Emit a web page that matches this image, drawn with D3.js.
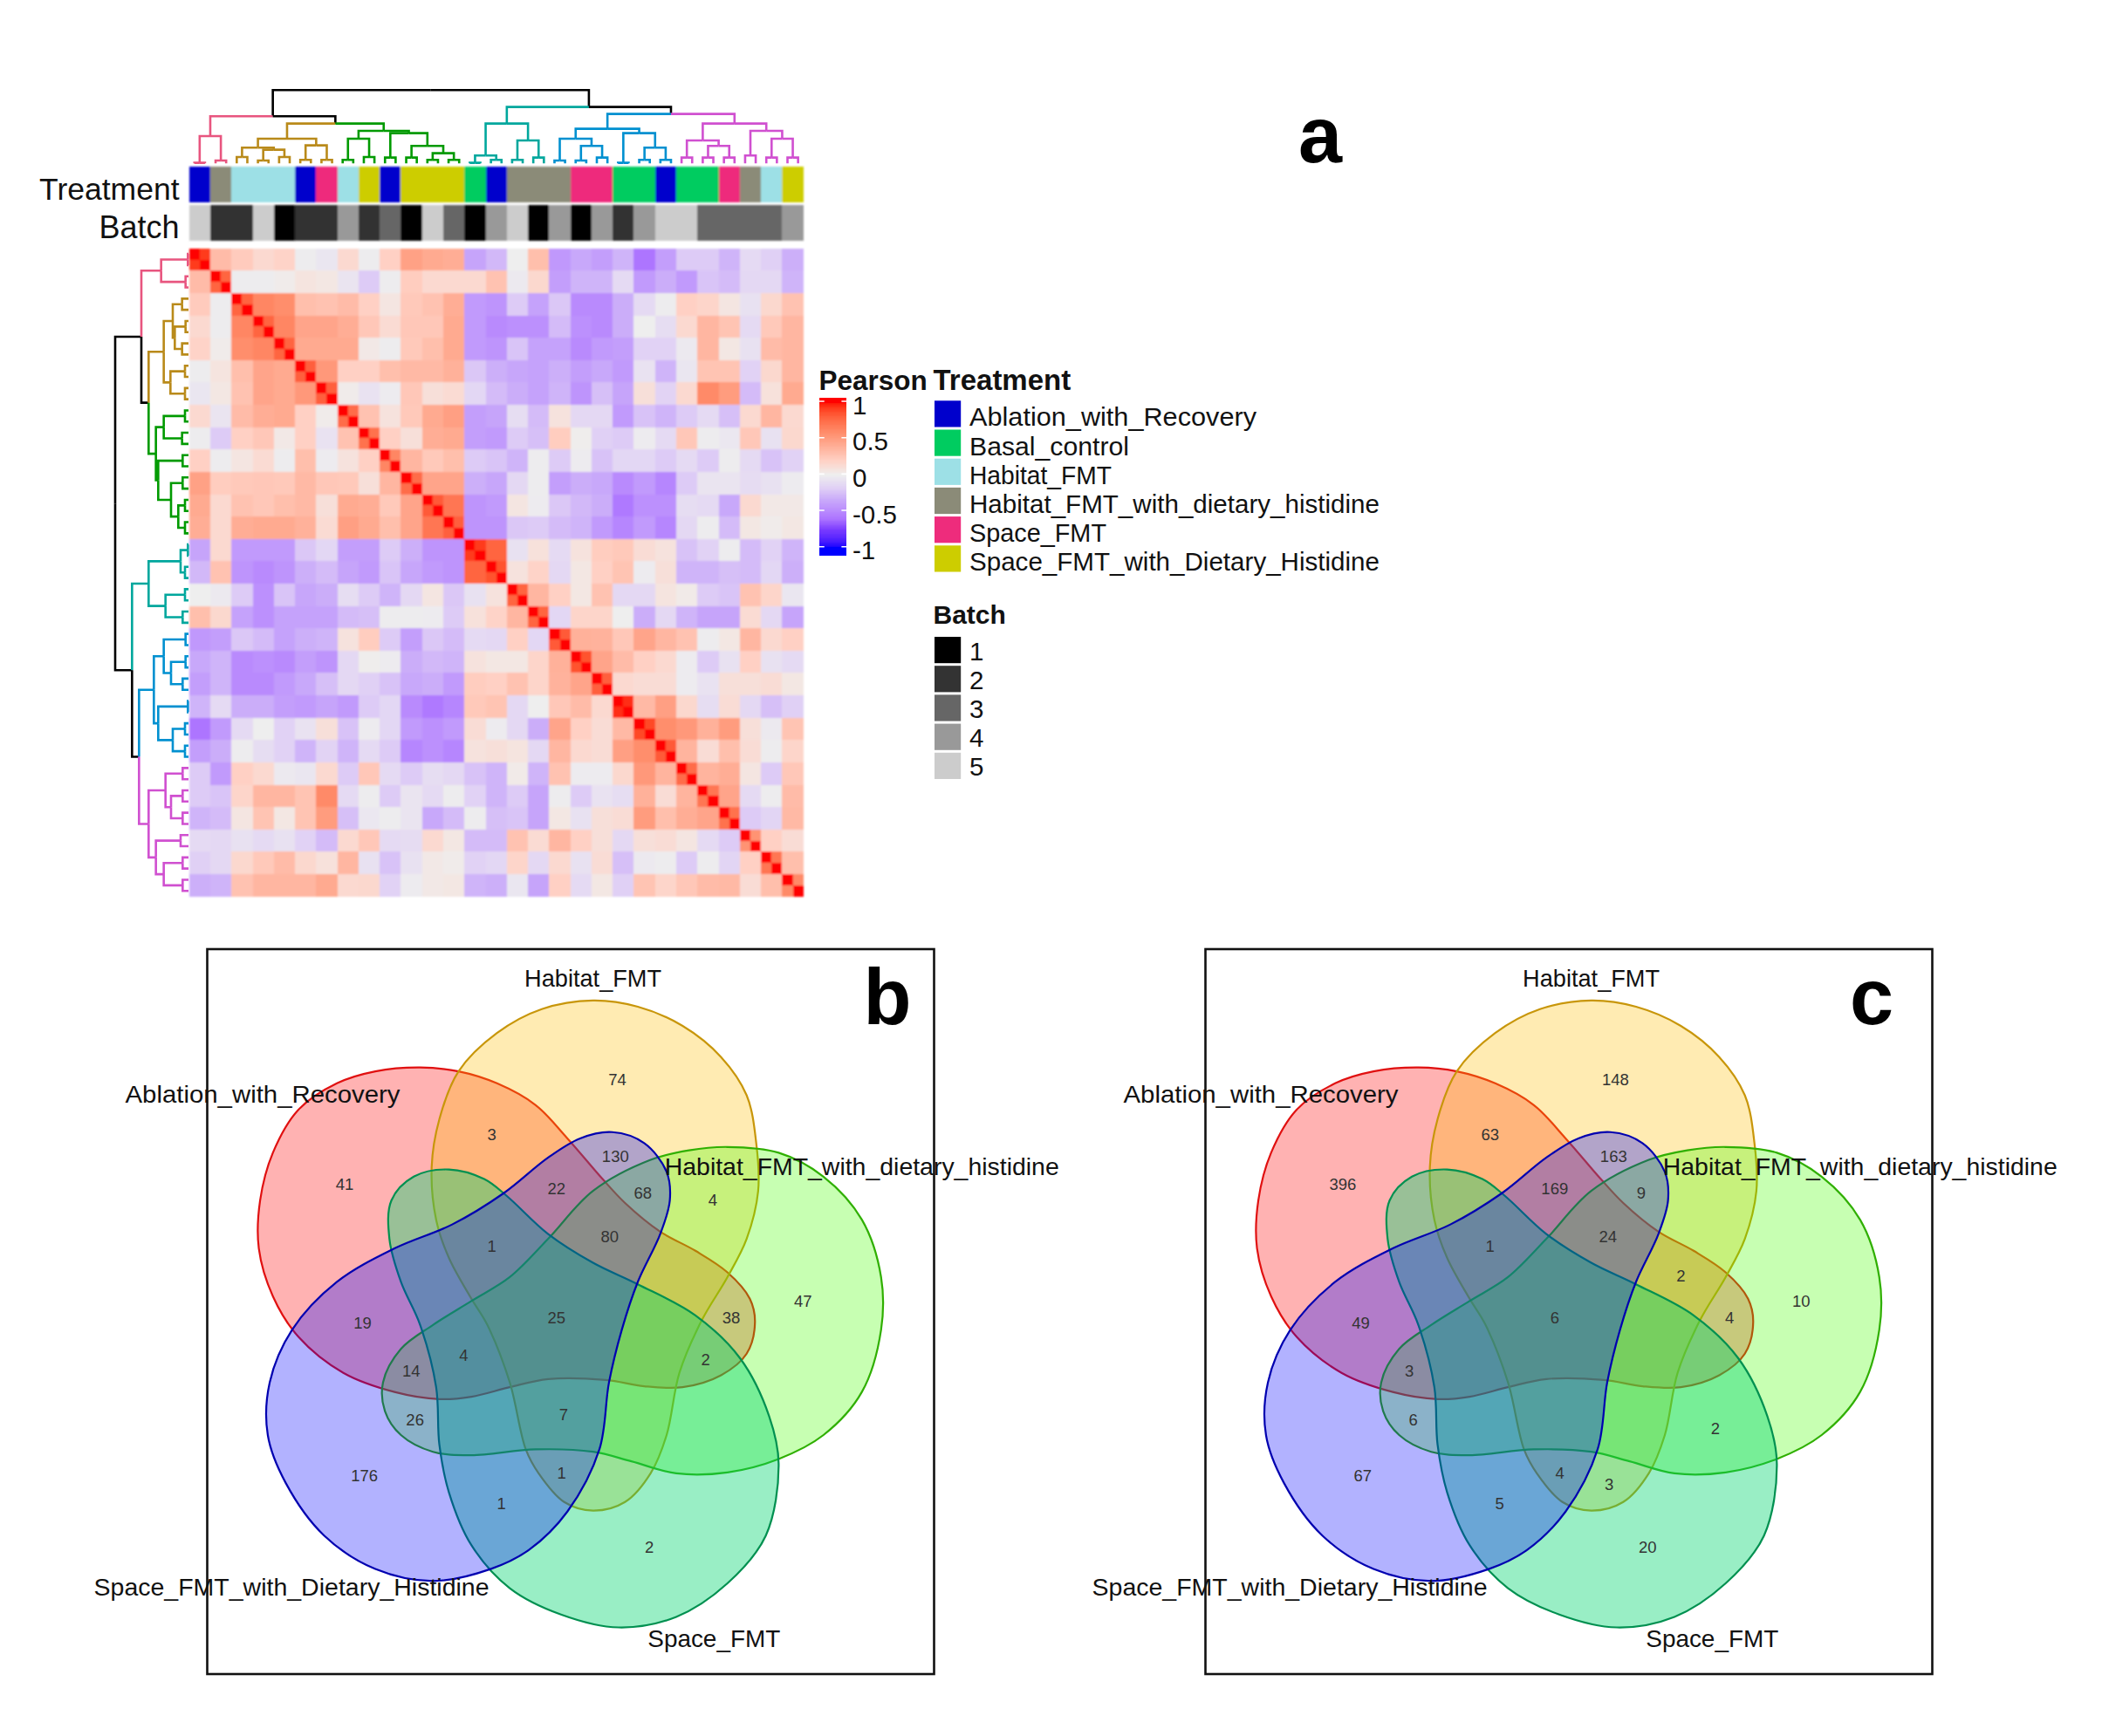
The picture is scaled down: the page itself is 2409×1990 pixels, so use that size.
<!DOCTYPE html>
<html><head><meta charset="utf-8">
<script src="https://cdn.jsdelivr.net/npm/d3@7/dist/d3.min.js"></script>
<style>html,body{margin:0;padding:0;background:#fff}text{font-family:"Liberation Sans",Arial,sans-serif;fill:#111}</style>
</head><body><div id="chart"></div>
<script>
// ---------- DATA ----------
const treatmentNames=["Ablation_with_Recovery","Basal_control","Habitat_FMT","Habitat_FMT_with_dietary_histidine","Space_FMT","Space_FMT_with_Dietary_Histidine"];
const batchNames=[1,2,3,4,5];
// Sample blocks, in clustered order (index into treatmentNames / batchNames)
const blockTreatment=[0,3,2,2,2,0,4,2,5,0,5,5,5,1,0,3,3,3,4,4,1,1,0,1,1,4,3,2,5];
const blockBatch=[5,2,2,5,1,2,2,4,2,3,1,5,3,1,4,5,1,4,1,4,2,4,5,5,3,3,3,3,4];
// Pearson r within each replicate block
const blockWithin=[.92,.78,.78,.78,.78,.8,.8,.75,.72,.62,.75,.82,.8,.92,.85,.78,.78,.82,.85,.8,.95,.88,.82,.75,.7,.72,.55,.7,.6];
// Pearson r between blocks: upper triangle, row i holds columns i+1 … 28
const pearsonUpper=[
[.32,.23,.14,.18,-.01,-.05,.14,-.01,.2,.47,.42,.4,-.37,-.28,0,.3,-.43,-.35,-.4,-.3,-.6,-.4,-.2,-.2,-.3,-.12,-.18,-.32],
[-.01,-.01,.02,.07,.05,-.06,-.2,-.01,.22,.14,.14,.14,.28,-.03,.15,-.4,-.3,-.3,-.12,-.42,-.33,-.42,-.23,-.27,-.13,-.13,-.3],
[.62,.58,.3,.28,.32,.2,.06,.24,.28,.4,-.42,-.45,-.2,-.38,-.22,-.5,-.5,-.33,-.12,-.01,.2,.17,.06,-.08,.15,.28],
[.62,.45,.45,.4,.25,.13,.25,.25,.42,-.42,-.5,-.47,-.47,-.27,-.47,-.5,-.33,0,-.1,.14,.35,.27,-.12,.24,.35],
[.42,.42,.42,.04,-.01,.24,.3,.42,-.42,-.45,-.23,-.38,-.38,-.5,-.42,-.4,-.17,-.17,-.03,.35,.05,-.08,.32,.35],
[.52,.2,.2,.3,.33,.33,.38,-.22,-.32,-.36,-.38,-.32,-.4,-.35,-.42,-.07,-.3,-.05,.27,.27,-.17,.15,.35],
[.02,-.07,-.02,.25,.1,.13,-.14,-.27,-.33,-.38,-.3,-.45,-.25,-.37,.1,-.16,.14,.6,.5,-.27,.09,.42],
[.28,.08,.24,.42,.48,-.4,-.37,-.1,-.27,.08,-.13,-.13,-.42,-.24,-.3,-.2,-.12,-.25,.14,.35,.14],
[.2,.1,.4,.42,-.4,-.42,-.2,-.25,.22,.01,-.18,-.2,-.02,-.12,.25,-.01,-.04,.25,-.08,.15],
[.35,.24,.3,-.2,-.23,-.3,-.01,-.2,-.02,-.24,-.14,-.14,-.2,-.12,-.2,-.01,-.12,-.24,-.17],
[.45,.45,-.32,-.36,-.13,-.01,-.4,-.33,-.35,-.5,-.42,-.52,-.2,-.06,-.06,-.11,-.08,-.02],
[.7,-.45,-.42,.06,-.02,-.22,-.28,-.33,-.58,-.47,-.47,-.1,-.12,-.35,.14,.04,.04],
[-.45,-.45,-.22,-.2,-.27,-.3,-.42,-.52,-.42,-.52,-.13,-.01,-.27,.05,.02,.05],
[.78,-.08,.09,-.12,.08,.22,.24,.12,.08,-.24,-.17,-.01,-.27,-.17,-.3],
[.08,.18,-.13,.05,.2,.27,-.02,.1,-.3,-.3,-.25,-.27,-.14,-.32],
[.35,.2,.05,.28,-.13,-.13,.07,.03,-.2,-.23,.28,.17,-.05],
[-.14,.17,.17,0,-.33,-.13,-.3,-.37,-.37,.13,-.13,-.37],
[.38,.37,.25,.45,.35,.28,-.01,.05,.35,.14,.2],
[.45,.32,.2,.14,-.02,-.2,-.08,.2,-.08,-.12],
[.14,.12,.12,-.02,-.07,.1,.1,.12,.05],
[.33,.48,.15,-.1,.12,-.13,-.25,-.18],
[.58,.52,.38,.5,.1,-.03,.27],
[.36,.12,.3,.12,-.01,.17],
[.36,.4,.06,-.2,.25],
[.45,-.12,-.01,.32],
[-.2,-.15,.33],
[.2,.12],
[.3]];
// Cluster tree: [height, cluster, ...children]; a leaf block is [height, cluster, blockIndex]
const clusterNames=["top","rose","ochre","green","teal","blue","magenta"];
const clusterTree=[252,0,
 [162,0,
  [94,1,[2,1,0],[10,1,1]],
  [137,0,
   [85,2,
    [54,2,[22,2,2],[47,2,[10,2,3],[22,2,4]]],
    [62,2,[12,2,5],[12,2,6]]],
   [112,3,
    [85,3,[12,3,7],[22,3,8]],
    [104,3,[20,3,9],
     [60,3,[20,3,10],[35,3,[12,3,11],[12,3,12]]]]]]],
 [194,0,
  [137,4,
   [27,4,[2,4,13],[12,4,14]],
   [79,4,[12,4,15],[20,4,16]]],
  [170,0,
   [119,5,
    [85,5,[10,5,17],[60,5,[10,5,18],[20,5,19]]],
    [104,5,[2,5,20],[54,5,[12,5,21],[12,5,22]]]],
   [137,6,
    [79,6,[20,6,23],[60,6,[20,6,24],[20,6,25]]],
    [112,6,[27,6,26],[85,6,[20,6,27],[20,6,28]]]]]]];
const pearsonTicks=[1,.5,0,-.5,-1];
// Venn
const setNames=["Ablation_with_Recovery","Habitat_FMT","Habitat_FMT_with_dietary_histidine","Space_FMT_with_Dietary_Histidine","Space_FMT"];
const countsB=[74,41,3,130,22,68,4,1,80,47,19,38,25,4,14,2,26,7,176,1,1,2,null,null,null];
const countsC=[148,396,63,163,169,9,null,1,24,10,49,4,6,null,3,null,6,null,67,4,5,20,2,2,3];

// ---------- LAYOUT ----------
// Venn outlines and anchors, in a diagram space mapped by the scales below
const outlineAblation=[[520,262],[580,270],[640,295],[700,340],[750,410],[805,495],[840,545],[895,605],[950,645],[1000,690],[1035,745],[1043,795],[1030,860],[990,905],[930,930],[870,928],[810,915],[720,913],[660,930],[600,950],[550,955],[480,940],[400,900],[330,825],[290,740],[268,640],[270,540],[290,440],[330,350],[390,295],[450,270]];
const outlineHabitat=[[790,122],[860,135],[930,175],[990,240],[1030,320],[1045,420],[1048,520],[1030,620],[1000,700],[960,790],[925,900],[905,1030],[880,1110],[840,1170],[790,1188],[745,1170],[705,1110],[685,1060],[660,920],[625,800],[600,745],[565,660],[545,580],[538,470],[550,370],[580,270],[640,190],[710,140]];
const outlineHistidine=[[1000,428],[1080,440],[1150,490],[1210,580],[1240,700],[1240,810],[1210,940],[1150,1030],[1080,1080],[1000,1108],[920,1110],[850,1085],[790,1065],[700,1060],[600,1072],[540,1065],[490,1030],[465,980],[462,920],[490,850],[540,800],[600,750],[660,700],[720,620],[790,520],[880,455],[940,435]];
const outlineSpaceDiet=[[820,397],[870,420],[905,480],[910,540],[895,610],[860,710],[835,810],[815,920],[800,1060],[750,1190],[690,1270],[630,1310],[540,1335],[450,1310],[370,1240],[310,1130],[282,1030],[285,920],[320,810],[390,710],[480,640],[570,590],[650,525],[720,450],[770,410]];
const outlineSpace=[[565,475],[620,495],[655,530],[720,610],[790,670],[860,715],[950,780],[1020,870],[1065,990],[1080,1090],[1060,1240],[1000,1340],[920,1410],[830,1432],[740,1405],[660,1350],[600,1260],[565,1150],[550,1050],[545,930],[520,800],[490,710],[472,620],[475,540],[510,490]];
const regionAnchors=[[828,290],[402,508],[632,405],[825,450],[733,518],[868,527],[977,541],[632,638],[816,618],[1118,753],[430,798],[1006,788],[733,788],[588,865],[506,899],[966,875],[512,1000],[744,990],[433,1117],[741,1112],[647,1175],[878,1267],[930,700],[984,1019],[818,1135]];
const setLabelAnchors=[[274,320],[790,78],[1210,470],[319,1350],[979,1457]];
const setLabelWidths=[315,157,452,453,152];
const legendLabelWidths=[329,183,163,470,157,470];
const setStyle=[
 {fill:"rgba(255,0,0,.3)",stroke:"#E01010"},
 {fill:"rgba(255,188,0,.3)",stroke:"#C8960A"},
 {fill:"rgba(68,255,0,.3)",stroke:"#2FAF00"},
 {fill:"rgba(0,0,255,.3)",stroke:"#0000B0"},
 {fill:"rgba(0,213,109,.4)",stroke:"#009050"}];
const paintOrder=[0,1,2,4,3];
const treatmentColors=["#0000CC","#00CC60","#9DE0E6","#8B8B78","#EE2C7C","#CDCD00"];
const batchColors=["#000000","#333333","#666666","#999999","#CCCCCC"];
const clusterColors=["#000000","#E8557F","#B98A1A","#009A00","#00A79D","#0090D0","#D050D0"];

const W=2409,H=1990;
const svg=d3.select("#chart").append("svg").attr("width",W).attr("height",H).attr("viewBox",[0,0,W,H]);
svg.append("defs").append("filter").attr("id","soft").attr("x","-2%").attr("y","-2%").attr("width","104%").attr("height","104%")
 .append("feGaussianBlur").attr("stdDeviation",.8);

// ---------- SCALES ----------
const nBlocks=blockTreatment.length;
const samples=d3.range(nBlocks*2);
const hx=d3.scaleBand().domain(samples).range([216.7,920.7]);
const hy=d3.scaleBand().domain(samples).range([284.7,1027.7]);
const color=d3.scaleLinear()
 .domain([-1,-.75,-.6,-.35,-.18,0,.2,.4,.6,.75,1])
 .range(["#0000ff","#7A3CFF","#AD75FF","#C8A8FA","#E0D0F5","#EEEEEE","#FFD0C4","#FFAD95","#FF8A68","#FF6C48","#ff0000"])
 .interpolate(d3.interpolateLab);
const dendroH=d3.scaleLinear().domain([0,252]).range([0,84]);
const blockOf=s=>Math.floor(s/2);
function r(i,j){
  const a=blockOf(i),b=blockOf(j);
  if(a===b) return i===j?1:blockWithin[a];
  return a<b?pearsonUpper[a][b-a-1]:pearsonUpper[b][a-b-1];
}

// ---------- HEATMAP ----------
const heat=svg.append("g").attr("filter","url(#soft)").attr("shape-rendering","crispEdges");
const cells=samples.flatMap(i=>samples.map(j=>({i,j,v:r(i,j)})));
heat.selectAll("rect").data(cells).join("rect")
 .attr("x",d=>hx(d.j)).attr("y",d=>hy(d.i)).attr("width",hx.bandwidth()+.6).attr("height",hy.bandwidth()+.6)
 .attr("fill",d=>color(d.v));

// ---------- ANNOTATIONS ----------
const anno=svg.append("g").attr("filter","url(#soft)").attr("shape-rendering","crispEdges");
const annoRows=[{vals:blockTreatment,cols:treatmentColors,y0:190.7,y1:231.7},{vals:blockBatch.map(b=>b-1),cols:batchColors,y0:235,y1:276}];
annoRows.forEach(a=>{
  anno.append("g").selectAll("rect").data(samples).join("rect")
   .attr("x",s=>hx(s)).attr("width",hx.bandwidth()+.6).attr("y",a.y0).attr("height",a.y1-a.y0)
   .attr("fill",s=>a.cols[a.vals[blockOf(s)]]);
});
svg.append("text").attr("x",205.5).attr("y",228.5).attr("text-anchor","end").attr("font-size",35.5).text("Treatment");
svg.append("text").attr("x",205.5).attr("y",272.5).attr("text-anchor","end").attr("font-size",36).text("Batch");

// ---------- DENDROGRAMS ----------
function layoutTree(n){
  const [h,c,...kids]=n;
  if(kids.length===1&&typeof kids[0]==="number"){
    return {h,c,block:kids[0],kids:[]};
  }
  return {h,c,kids:kids.map(layoutTree)};
}
const root=layoutTree(clusterTree);
function position(n,band){
  if(n.block!==undefined){
    const p1=band(n.block*2)+band.bandwidth()/2,p2=band(n.block*2+1)+band.bandwidth()/2;
    n.p=(p1+p2)/2;n.lo=p1;n.hi=p2;n.leaf=true;return n.p;
  }
  const ps=n.kids.map(k=>position(k,band));
  n.lo=ps[0];n.hi=ps[ps.length-1];n.p=(n.lo+n.hi)/2;return n.p;
}
function collect(n,out){
  n.kids.forEach(k=>{
    out.push({pos0:n.p,pos1:k.p,h0:n.h,h1:k.h,c:k.c});
    collect(k,out);
  });
  if(n.leaf){
    out.push({pos0:n.p,pos1:n.lo,h0:n.h,h1:0,c:n.c});
    out.push({pos0:n.p,pos1:n.hi,h0:n.h,h1:0,c:n.c});
  }
  return out;
}
const topBase=187.3,leftBase=216;
position(root,hx);
const topLinks=collect(root,[]);
svg.append("g").attr("fill","none").attr("stroke-width",2.6).selectAll("path").data(topLinks).join("path")
 .attr("stroke",d=>clusterColors[d.c])
 .attr("d",d=>{const y0=topBase-dendroH(d.h0),y1=topBase-dendroH(d.h1);return `M${d.pos0},${y0}H${d.pos1}V${y1}`;});
position(root,hy);
const leftLinks=collect(root,[]);
svg.append("g").attr("fill","none").attr("stroke-width",2.6).selectAll("path").data(leftLinks).join("path")
 .attr("stroke",d=>clusterColors[d.c])
 .attr("d",d=>{const x0=leftBase-dendroH(d.h0),x1=leftBase-dendroH(d.h1);return `M${x0},${d.pos0}V${d.pos1}H${x1}`;});

// ---------- LEGENDS ----------
const titleY=446.7;
svg.append("text").attr("x",938.5).attr("y",titleY).attr("font-size",31.5).attr("font-weight","bold").text("Pearson");
svg.append("text").attr("x",1069.5).attr("y",titleY).attr("font-size",33).attr("font-weight","bold").text("Treatment");
const barY=d3.scaleLinear().domain([1,-1]).range([460,626.7]);
const barVals=d3.range(-1.11,1.045,.01);
const bar=svg.append("g").attr("shape-rendering","crispEdges");
bar.selectAll("rect").data(barVals).join("rect")
 .attr("x",938.7).attr("width",31.7).attr("y",v=>barY(v)-.5).attr("height",Math.abs(barY(0)-barY(.01))+1.2)
 .attr("fill",v=>color(Math.max(-1,Math.min(1,v))));
const tick=svg.append("g").selectAll("g").data(pearsonTicks).join("g");
tick.append("path").attr("stroke","#fff").attr("stroke-width",1.6).attr("d",v=>`M938.7,${barY(v)}h6M970.4,${barY(v)}h-6`);
tick.append("text").attr("x",977).attr("y",v=>barY(v)+14.5).attr("font-size",29.5).text(v=>v);

function swatches(names,cols,y0,pitch,dy,widths){
  const g=svg.append("g").selectAll("g").data(names).join("g");
  g.append("rect").attr("x",1071).attr("width",30.2).attr("y",(d,i)=>y0+i*pitch).attr("height",30.2).attr("fill",(d,i)=>cols[i]);
  const t=g.append("text").attr("x",1111).attr("y",(d,i)=>y0+i*pitch+dy).attr("font-size",29.5).text(d=>d);
  if(widths) t.attr("textLength",(d,i)=>widths[i]).attr("lengthAdjust","spacingAndGlyphs");
}
swatches(treatmentNames,treatmentColors,459.3,33.2,29,legendLabelWidths);
svg.append("text").attr("x",1069.5).attr("y",715).attr("font-size",30).attr("font-weight","bold").text("Batch");
swatches(batchNames,batchColors,730,33.2,26.5);

// ---------- PANEL LETTERS ----------
[["a",1513,186],["b",1017,1174],["c",2145,1174]].forEach(([t,x,y])=>{
  svg.append("text").attr("x",x).attr("y",y).attr("text-anchor","middle").attr("font-size",90).attr("font-weight","bold").style("fill","#000").text(t);
});

// ---------- VENN PANELS ----------
const vx=d3.scaleLinear().domain([0,1150]).range([100,100+1150/1.363]);
const vy=d3.scaleLinear().domain([0,860]).range([1080,1080+860/1.823]);
const outlines=[outlineAblation,outlineHabitat,outlineHistidine,outlineSpaceDiet,outlineSpace];
const line=d3.line().x(p=>vx(p[0])).y(p=>vy(p[1])).curve(d3.curveCatmullRomClosed.alpha(.5));
function venn(dx,counts){
  const g=svg.append("g").attr("transform",`translate(${dx},0)`);
  g.append("rect").attr("x",237.5).attr("y",1088).attr("width",833).attr("height",831).attr("fill","none").attr("stroke","#111").attr("stroke-width",2.6);
  g.append("g").selectAll("path").data(paintOrder).join("path").attr("d",i=>line(outlines[i]))
   .attr("fill",i=>setStyle[i].fill).attr("stroke",i=>setStyle[i].stroke).attr("stroke-width",2.2);
  g.append("g").selectAll("text").data(setNames).join("text")
   .attr("x",(d,i)=>vx(setLabelAnchors[i][0])).attr("y",(d,i)=>vy(setLabelAnchors[i][1])-1.5).attr("dy",".36em")
   .attr("text-anchor","middle").attr("font-size",28.3)
   .attr("textLength",(d,i)=>setLabelWidths[i]).attr("lengthAdjust","spacingAndGlyphs").text(d=>d);
  g.append("g").selectAll("text").data(counts).join("text")
   .attr("x",(d,i)=>vx(regionAnchors[i][0])).attr("y",(d,i)=>vy(regionAnchors[i][1])-1.5).attr("dy",".36em")
   .attr("text-anchor","middle").attr("font-size",18.5).style("fill","#333").text(d=>d===null?"":d);
}
venn(0,countsB);
venn(1144,countsC);
</script></body></html>
